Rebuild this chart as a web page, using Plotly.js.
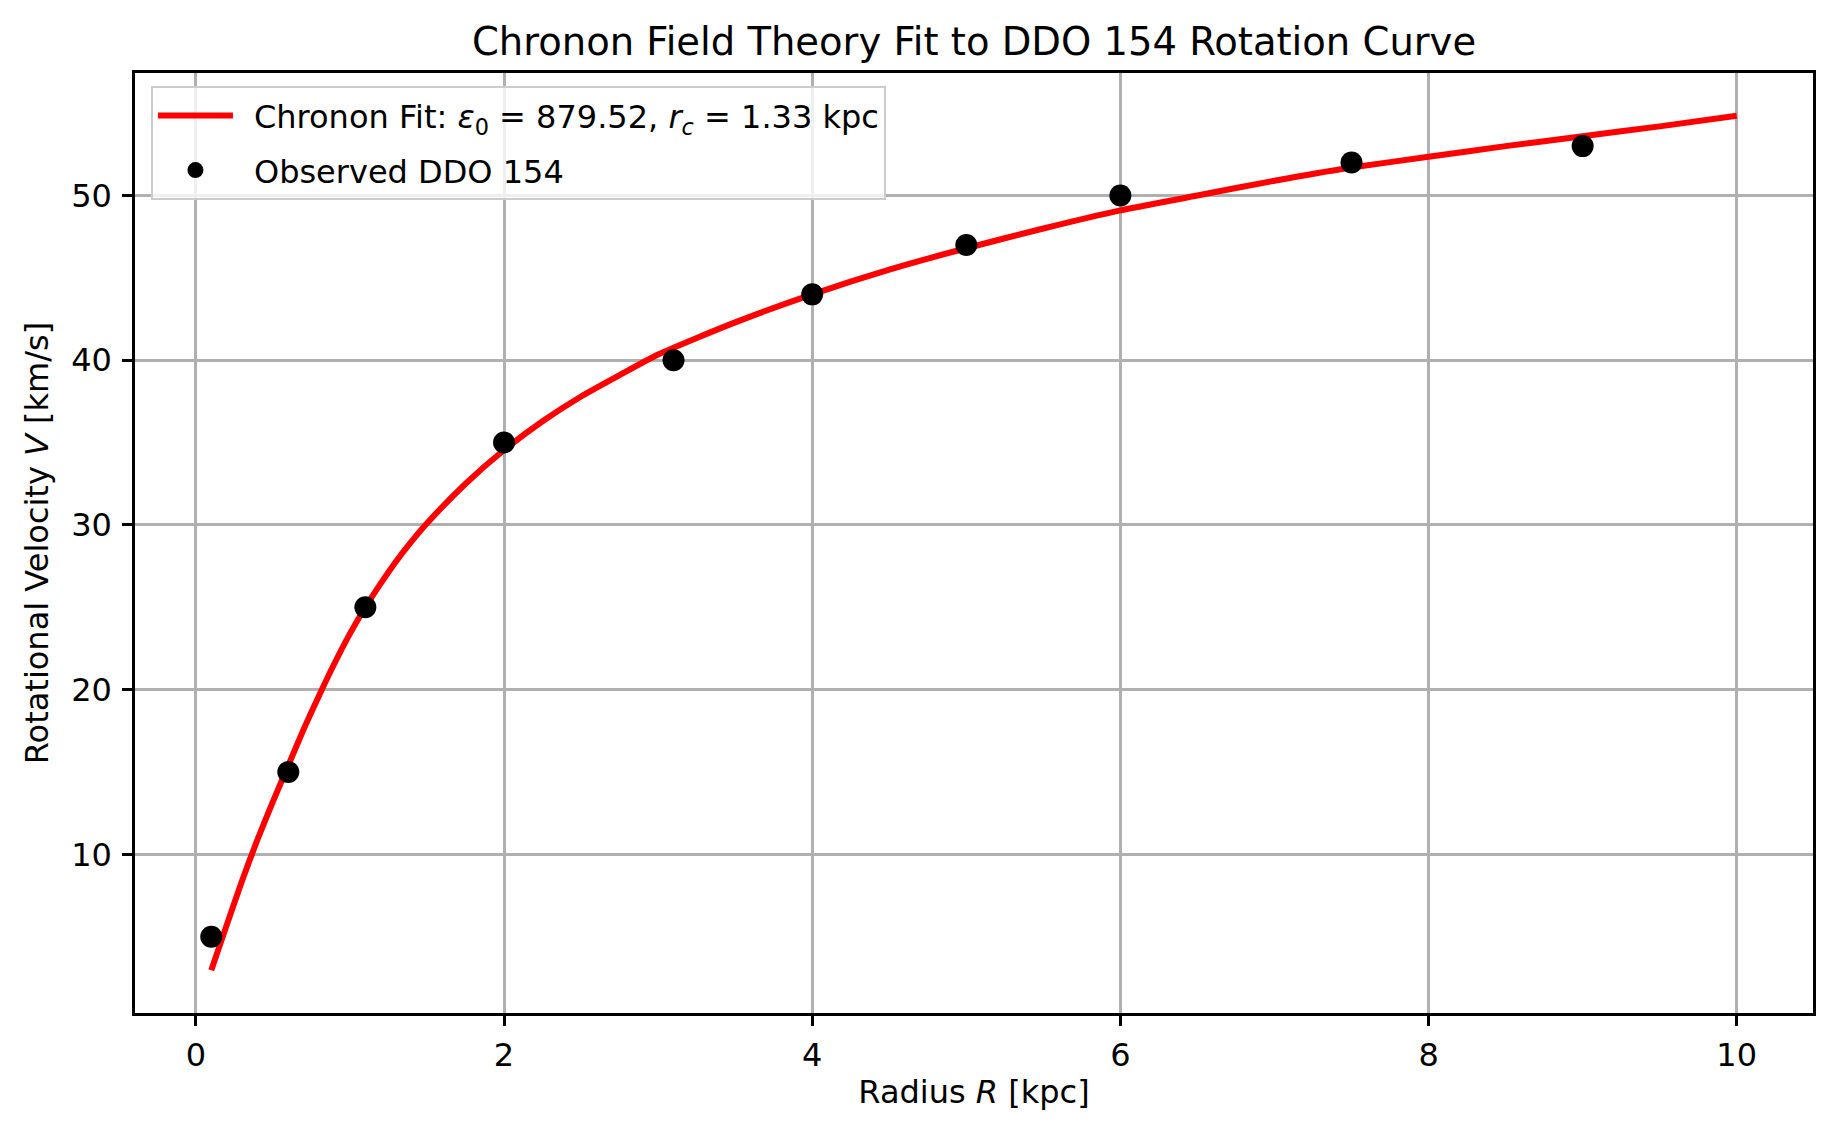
<!DOCTYPE html>
<html>
<head>
<meta charset="utf-8">
<script src="https://cdn.plot.ly/plotly-3.0.1.min.js"></script>
<style>html,body{margin:0;padding:0;background:#fff;}#chart{width:1824px;height:1123px;}</style>
</head>
<body>
<div id="chart"></div>
<script>
// Observed DDO 154 data
const obsR = [0.1, 0.6, 1.1, 2.0, 3.1, 4.0, 5.0, 6.0, 7.5, 9.0];
const obsV = [5, 15, 25, 35, 40, 44, 47, 50, 52, 53];

// Fitted curve
const fitR = [0.1, 0.2, 0.3, 0.4, 0.5, 0.6, 0.7, 0.8, 0.9, 1.0, 1.1, 1.2, 1.3, 1.4, 1.5, 1.75, 2.0, 2.25, 2.5, 2.75, 3.0, 3.5, 4.0, 4.5, 5.0, 5.5, 6.0, 6.5, 7.0, 7.5, 8.0, 8.5, 9.0, 9.5, 10.0];
const fitV = [2.96, 5.7, 8.4, 10.9, 13.2, 15.4, 17.6, 19.65, 21.6, 23.4, 25.0, 26.45, 27.8, 29.0, 30.1, 32.5, 34.55, 36.3, 37.8, 39.1, 40.35, 42.3, 44.0, 45.5, 46.8, 48.0, 49.1, 50.0, 50.9, 51.7, 52.35, 53.0, 53.6, 54.2, 54.84];

const xTicks = [0, 2, 4, 6, 8, 10];
const yTicks = [10, 20, 30, 40, 50];

const fitLabel = '\u2002Chronon Fit: <i>ε</i><sub>0</sub> = 879.52, <i>r<sub>c</sub></i> = 1.33 kpc';
const obsLabel = '\u2002Observed DDO 154';

const font = 'DejaVu Sans, sans-serif';

const traces = [
  {x: fitR, y: fitV, type: 'scatter', mode: 'lines', name: fitLabel, legendgroup: 'g1',
   line: {color: '#ff0000', width: 6, shape: 'spline', smoothing: 0.6}},
  {x: obsR, y: obsV, type: 'scatter', mode: 'markers', name: obsLabel, legendgroup: 'g2',
   marker: {color: '#000000', size: 22}}
];

const axisCommon = {
  showline: true, linecolor: '#000', linewidth: 2.5, mirror: true,
  ticks: 'outside', ticklen: 10, tickwidth: 2.5, tickcolor: '#000',
  showgrid: true, gridcolor: '#b0b0b0', gridwidth: 2.5,
  zeroline: false, tickfont: {family: font, size: 32, color: '#000'}
};

const layout = {
  width: 1824, height: 1123,
  margin: {l: 135, r: 11, t: 73, b: 110},
  paper_bgcolor: '#fff', plot_bgcolor: '#fff',
  font: {family: font, color: '#000'},
  title: {text: 'Chronon Field Theory Fit to DDO 154 Rotation Curve',
          font: {family: font, size: 38.5, color: '#000'},
          x: 0.5, xref: 'paper', xanchor: 'center',
          y: 1, yref: 'paper', yanchor: 'bottom', pad: {b: 18}},
  xaxis: Object.assign({}, axisCommon, {
    range: [-0.395, 10.495], tickvals: xTicks, ticktext: xTicks.map(String),
    ticklabelstandoff: 2,
    title: {text: 'Radius <i>R</i> [kpc]', font: {family: font, size: 32, color: '#000'}, standoff: 8}
  }),
  yaxis: Object.assign({}, axisCommon, {
    range: [0.365, 57.44], tickvals: yTicks, ticktext: yTicks.map(String),
    ticklabelstandoff: 4,
    title: {text: 'Rotational Velocity <i>V</i> [km/s]', font: {family: font, size: 32, color: '#000'}, standoff: 13}
  }),
  showlegend: true,
  legend: {x: 0.0095, y: 0.986, xanchor: 'left', yanchor: 'top',
           bgcolor: 'rgba(255,255,255,0.8)', bordercolor: '#cccccc', borderwidth: 2,
           font: {family: font, size: 32, color: '#000'},
           itemwidth: 75, tracegroupgap: 10}
};

Plotly.newPlot('chart', traces, layout, {displayModeBar: false, responsive: false});
</script>
</body>
</html>
